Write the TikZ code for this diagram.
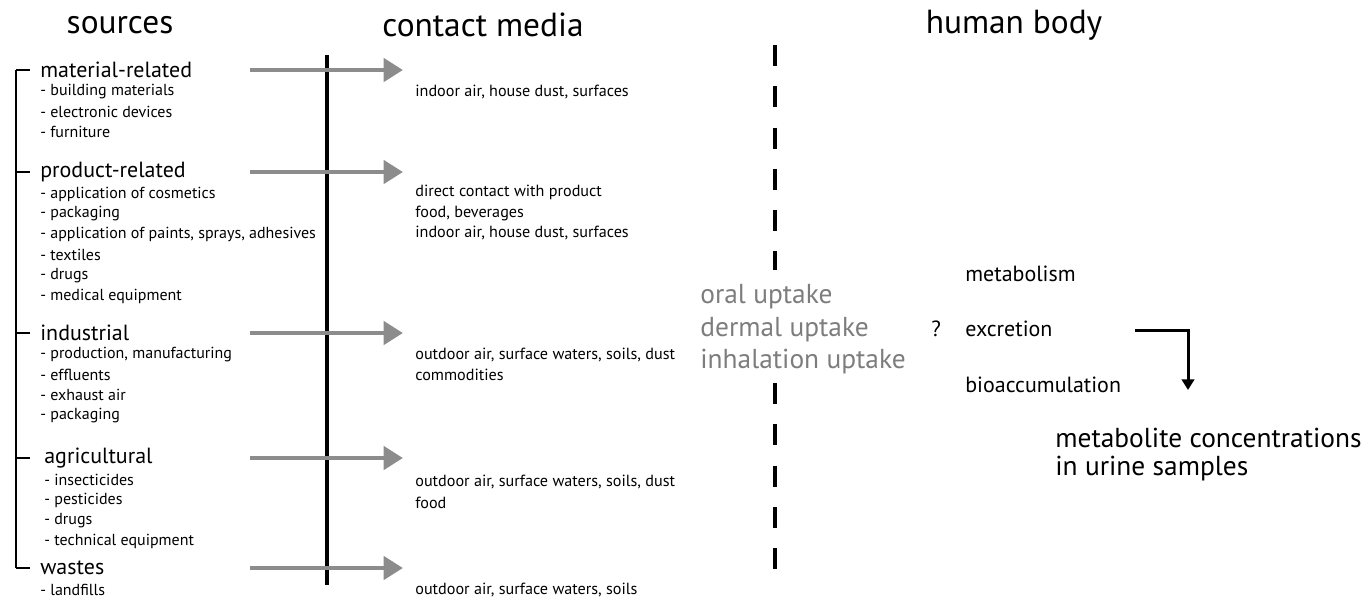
\documentclass[tikz,border=0pt]{standalone}
\usepackage{fontspec}
\setmainfont{PT Sans}
\usetikzlibrary{arrows.meta}

\definecolor{arrowgray}{RGB}{140,140,140}
\definecolor{uptakegray}{RGB}{125,125,125}

\tikzset{
	txt/.style={inner sep=0pt, anchor=west},
	title/.style={inner sep=0pt, anchor=center, font=\fontsize{19}{21}\selectfont},
	srchead/.style={txt, font=\fontsize{12.5}{14}\selectfont},
	srcitem/.style={txt, font=\fontsize{9.1}{10}\selectfont},
	mediatxt/.style={txt, font=\fontsize{9.2}{10}\selectfont},
	uptake/.style={txt, text=uptakegray, font=\fontsize{15.6}{17}\selectfont},
	bodytxt/.style={txt, font=\fontsize{12.5}{14}\selectfont},
	resulttxt/.style={txt, font=\fontsize{15.6}{17}\selectfont},
	bracket/.style={draw, line width=0.8pt},
	flowarrow/.style={draw=arrowgray, line width=2.8pt, -{Triangle[length=11pt,width=13pt]}},
	elbowarrow/.style={draw, line width=1.7pt, -{Triangle[length=6pt,width=7pt]}}
}

\begin{document}
\begin{tikzpicture}[x=0.02cm, y=-0.02cm]
			\useasboundingbox (0,0) rectangle (1369,600);

			\node[title] (hSrc) at (120,25){sources};
			\node[title] (hMedia) at (483,25){contact media};
			\node[title] (hBody) at (1014,25){human body};

			% sources
			\node[srchead] (mat) at (40,70){material-related};
				\node[srcitem] (mat1) at (40,92){- building materials};
				\node[srcitem] (mat2) at (40,112){- electronic devices};
				\node[srcitem] (mat3) at (40,132){- furniture};
			\node[srchead] (prod) at (40,172){product-related};
				\node[srcitem] (prod1) at (40,194){- application of cosmetics};
				\node[srcitem] (prod2) at (40,214){- packaging};
				\node[srcitem] (prod3) at (40,234){- application of paints, sprays, adhesives};
				\node[srcitem] (prod4) at (40,255){- textiles};
				\node[srcitem] (prod5) at (40,276){- drugs};
				\node[srcitem] (prod6) at (40,296){- medical equipment};
			\node[srchead] (ind) at (40,333){industrial};
				\node[srcitem] (ind1) at (40,355){- production, manufacturing};
				\node[srcitem] (ind2) at (40,375){- effluents};
				\node[srcitem] (ind3) at (40,395){- exhaust air};
				\node[srcitem] (ind4) at (40,416){- packaging};
			\node[srchead] (agr) at (44,458){agricultural};
				\node[srcitem] (agr1) at (44,480){- insecticides};
				\node[srcitem] (agr2) at (44,500){- pesticides};
				\node[srcitem] (agr3) at (44,521){- drugs};
				\node[srcitem] (agr4) at (44,541){- technical equipment};
			\node[srchead] (wst) at (40,568){wastes};
				\node[srcitem] (wst1) at (40,590){- landfills};

			% bracket
			\coordinate (brk) at (16,0);
			\coordinate (tick) at (30,0);
			\draw[bracket] (mat.west -| brk) -- (wst.west -| brk);
			\draw[bracket] (mat.west -| brk) -- (mat.west -| tick);
			\draw[bracket] (prod.west -| brk) -- (prod.west -| tick);
			\draw[bracket] (ind.west -| brk) -- (ind.west -| tick);
			\draw[bracket] (agr.west -| brk) -- (agr.west -| tick);
			\draw[bracket] (wst.west -| brk) -- (wst.west -| tick);

			% contact media
			\node[mediatxt] (med1) at (415,92){indoor air, house dust, surfaces};
			\node[mediatxt] (med2a) at (415,192){direct contact with product};
			\node[mediatxt] (med2b) at (415,213){food, beverages};
			\node[mediatxt] (med2c) at (415,233){indoor air, house dust, surfaces};
			\node[mediatxt] (med3a) at (415,355){outdoor air, surface waters, soils, dust};
			\node[mediatxt] (med3b) at (415,375){commodities};
			\node[mediatxt] (med4a) at (415,482){outdoor air, surface waters, soils, dust};
			\node[mediatxt] (med4b) at (415,503){food};
			\node[mediatxt] (med5) at (415,590){outdoor air, surface waters, soils};

			% divider lines
			\coordinate (solTop) at (327,55);
			\coordinate (solBot) at (327,585);
			\draw[line width=2.3pt] (solTop) -- (solBot);
			\coordinate (dshA) at (775,45);
			\coordinate (dshB) at (775,270);
			\coordinate (dshC) at (775,383);
			\coordinate (dshD) at (775,578);
			\draw[line width=2.3pt, dash pattern=on 12pt off 11.5pt] (dshA) -- (dshB);
			\draw[line width=2.3pt, dash pattern=on 12pt off 11.5pt] (dshC) -- (dshD);

			% arrows
			\coordinate (aS) at (250,0);
			\coordinate (aE) at (403,0);
			\draw[flowarrow] (mat.west -| aS) -- (mat.west -| aE);
			\draw[flowarrow] (prod.west -| aS) -- (prod.west -| aE);
			\draw[flowarrow] (ind.west -| aS) -- (ind.west -| aE);
			\draw[flowarrow] (agr.west -| aS) -- (agr.west -| aE);
			\draw[flowarrow] (wst.west -| aS) -- (wst.west -| aE);

			% human body
			\node[uptake] (oral) at (700,297){oral uptake};
			\node[uptake] (derm) at (700,330){dermal uptake};
			\node[uptake] (inh) at (700,362){inhalation uptake};
			\node[bodytxt] (qm) at (931,329){?};
			\node[bodytxt] (metab) at (965,274){metabolism};
			\node[bodytxt] (excr) at (965,329){excretion};
			\node[bodytxt] (bioac) at (965,385){bioaccumulation};
			\coordinate (elbS) at (1135,330);
			\coordinate (elbE) at (1188,390);
			\draw[elbowarrow] (elbS) -| (elbE);
			\node[resulttxt] (res1) at (1055,438){metabolite concentrations};
			\node[resulttxt] (res2) at (1055,469){in urine samples};

\end{tikzpicture}
\end{document}
